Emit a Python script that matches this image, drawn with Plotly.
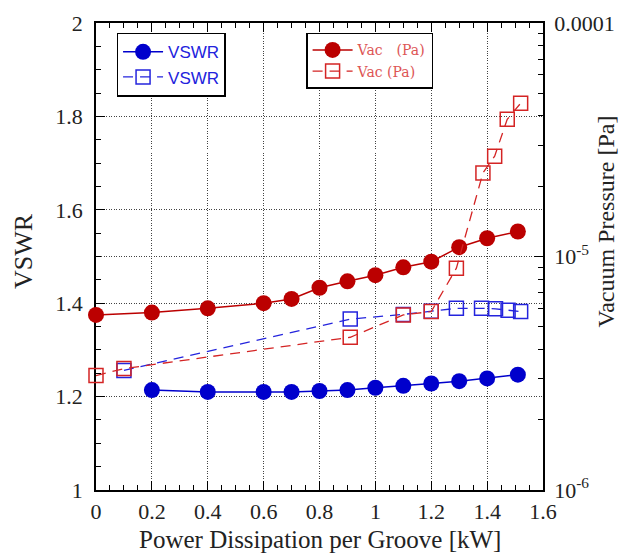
import plotly.graph_objects as go

# ---- data ----
power_vswr_on = [0.2, 0.4, 0.6, 0.7, 0.8, 0.9, 1.0, 1.1, 1.2, 1.3, 1.4, 1.51]
vswr_on = [1.214, 1.210, 1.210, 1.210, 1.212, 1.214, 1.219, 1.223, 1.228, 1.233, 1.239, 1.247]

power_vswr_off = [0.1, 0.91, 1.1, 1.2, 1.29, 1.38, 1.43, 1.475, 1.52]
vswr_off = [1.256, 1.366, 1.376, 1.383, 1.389, 1.389, 1.388, 1.385, 1.382]

power_vac_on = [0.0, 0.2, 0.4, 0.6, 0.7, 0.8, 0.9, 1.0, 1.1, 1.2, 1.3, 1.4, 1.51]
vac_on = [5.62e-6, 5.75e-6, 6.0e-6, 6.31e-6, 6.58e-6, 7.35e-6, 7.83e-6, 8.32e-6,
          8.99e-6, 9.5e-6, 1.096e-5, 1.197e-5, 1.28e-5]

power_vac_off = [0.0, 0.1, 0.91, 1.1, 1.2, 1.29, 1.385, 1.427, 1.472, 1.52]
vac_off = [3.09e-6, 3.31e-6, 4.51e-6, 5.62e-6, 5.81e-6, 8.91e-6, 2.28e-5, 2.69e-5, 3.87e-5, 4.53e-5]

x_ticks = [0, 0.2, 0.4, 0.6, 0.8, 1, 1.2, 1.4, 1.6]
x_tick_text = ["0", "0.2", "0.4", "0.6", "0.8", "1", "1.2", "1.4", "1.6"]
y_ticks = [1, 1.2, 1.4, 1.6, 1.8, 2]
y_tick_text = ["1", "1.2", "1.4", "1.6", "1.8", "2"]
y2_ticks = [1e-6, 1e-5, 1e-4]
y2_tick_text = ["10<sup>-6</sup>", "10<sup>-5</sup>", "0.0001"]
y2_minor = [m * d for d in (1e-6, 1e-5) for m in range(2, 10)]

x_title = "Power Dissipation per Groove [kW]"
y_title = "VSWR"
y2_title = "Vacuum Pressure [Pa]"

BLUE = "#0000CC"
BLUE2 = "#2424DD"
RED = "#BB0000"
RED2 = "#D42424"
SERIF = "Liberation Serif, Times New Roman, serif"
TXT = "#222222"

fig = go.Figure()

fig.add_trace(go.Scatter(
    x=power_vswr_on, y=vswr_on, name="VSWR", mode="lines+markers",
    line=dict(color=BLUE, width=1.5),
    marker=dict(symbol="circle", size=16, color=BLUE),
    cliponaxis=False, legend="legend"))
fig.add_trace(go.Scatter(
    x=power_vswr_off, y=vswr_off, name="VSWR", mode="lines+markers",
    line=dict(color=BLUE2, width=1.3, dash="10px,7px"),
    marker=dict(symbol="square-open", size=14, color=BLUE2, line=dict(width=1.5)),
    cliponaxis=False, legend="legend"))
fig.add_trace(go.Scatter(
    x=power_vac_on, y=vac_on, name="Vac\u3000(Pa)", mode="lines+markers",
    line=dict(color=RED, width=1.5),
    marker=dict(symbol="circle", size=16, color=RED),
    yaxis="y2", cliponaxis=False, legend="legend2"))
fig.add_trace(go.Scatter(
    x=power_vac_off, y=vac_off, name="Vac (Pa)", mode="lines+markers",
    line=dict(color=RED2, width=1.3, dash="10px,7px"),
    marker=dict(symbol="square-open", size=14, color=RED2, line=dict(width=1.5)),
    yaxis="y2", cliponaxis=False, legend="legend2"))

axis_common = dict(
    showline=True, linecolor="black", linewidth=1.5,
    ticks="inside", ticklen=9, tickwidth=1.2, tickcolor="black",
    gridcolor="#444444", griddash="1px,1.5px", gridwidth=1,
    zeroline=False, tickfont=dict(family=SERIF, size=22, color=TXT),
    layer="below traces", automargin=False,
)

fig.update_layout(
    width=621, height=559,
    margin=dict(l=96, r=78, t=23, b=69),
    paper_bgcolor="white", plot_bgcolor="white",
    showlegend=True,
    xaxis=dict(
        **axis_common, range=[0, 1.6], tickmode="array", tickvals=x_ticks,
        ticktext=x_tick_text, mirror="ticks", showgrid=True, ticklabelstandoff=1,
        minor=dict(dtick=0.05, tick0=0, ticks="inside", ticklen=5, tickcolor="black", showgrid=False),
    ),
    yaxis=dict(
        **axis_common, range=[1, 2], tickmode="array", tickvals=y_ticks,
        ticktext=y_tick_text, showgrid=True, ticklabelstandoff=7,
        minor=dict(dtick=0.05, tick0=1, ticks="inside", ticklen=5, tickcolor="black", showgrid=False),
    ),
    yaxis2=dict(
        **axis_common, type="log", range=[-6, -4], overlaying="y", side="right",
        tickmode="array", tickvals=y2_ticks, ticktext=y2_tick_text, showgrid=True,
        ticklabelstandoff=5,
        minor=dict(tickmode="array", tickvals=y2_minor, ticks="inside", ticklen=5,
                   tickcolor="black", showgrid=False),
    ),
    legend=dict(
        x=0.046, y=0.979, xanchor="left", yanchor="top",
        bgcolor="white", bordercolor="black", borderwidth=1.5,
        font=dict(family="Liberation Sans, Arial, sans-serif", size=17, color="#2222DD"),
        traceorder="normal", itemwidth=40, tracegroupgap=0,
    ),
    legend2=dict(
        x=0.47, y=0.979, xanchor="left", yanchor="top",
        bgcolor="white", bordercolor="black", borderwidth=1.5,
        font=dict(family="DejaVu Serif, serif", size=14, color="#DD5555"),
        traceorder="normal", itemwidth=40, tracegroupgap=0,
    ),
    annotations=[
        dict(text=x_title, xref="paper", yref="paper", x=0.5, y=-0.107,
             xanchor="center", yanchor="middle", showarrow=False,
             font=dict(family=SERIF, size=25, color=TXT)),
        dict(text=y_title, xref="paper", yref="paper", x=-0.161, y=0.512,
             xanchor="center", yanchor="middle", showarrow=False, textangle=-90,
             font=dict(family=SERIF, size=26, color=TXT)),
        dict(text=y2_title, xref="paper", yref="paper", x=1.140, y=0.574,
             xanchor="center", yanchor="middle", showarrow=False, textangle=-90,
             font=dict(family=SERIF, size=24, color=TXT)),
    ],
)

fig.write_html("out.html")
